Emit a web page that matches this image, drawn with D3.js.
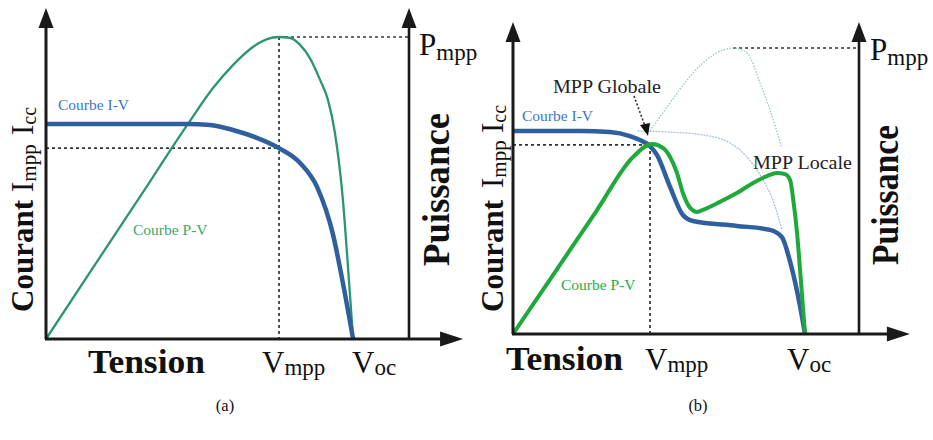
<!DOCTYPE html>
<html>
<head>
<meta charset="utf-8">
<script src="https://cdn.jsdelivr.net/npm/d3@7"></script>
<style>
html,body{margin:0;padding:0;background:#fff;}
svg{display:block;}
text{font-family:"Liberation Serif","Times New Roman",serif;}
</style>
</head>
<body>
<svg id="chart" width="933" height="440"></svg>
<script>
// ---------- DATA (normalised units: V 0..100 of axis span, I/P 0..100) ----------
// Panel (a)
const ivA_V = [0, 20.4, 38.8, 45.2, 51.5, 58.1, 64.2, 70.0, 74.7, 79.1, 81.8, 84.6];
const ivA_I = [71.2, 71.2, 71.2, 70.9, 69.2, 66.6, 63.2, 58.3, 50.3, 34.4, 18.5, 0];
const pvA_V = [0, 13, 26, 39.1, 46.0, 51.5, 57.0, 60.9, 64.2, 67.2, 70.0, 72.7, 75.5, 77.7, 79.6, 81.8, 83.2, 84.6];
const pvA_P = [0, 23.7, 47.3, 71.2, 83.1, 90.7, 96.7, 99.3, 100, 99.7, 97.4, 93.0, 85.8, 79.1, 68.2, 46.0, 23.8, 0];
const mppA = {v: 64.2, i: 63.2, p: 100, voc: 84.6};

// Panel (b) : partial shading
const ivB_V = [0, 19.4, 28.0, 33.8, 36.7, 39.6, 41.6, 45.4, 49.1, 52.0, 64.7, 74.3, 77.7, 80.1, 82.9, 84.4];
const ivB_I = [71.0, 71.0, 70.6, 69.2, 67.8, 65.7, 62.6, 51.4, 41.6, 39.5, 37.8, 36.4, 33.9, 25.2, 10.1, 0];
const pvB_V = [0, 12, 24, 34.7, 40.2, 43.4, 45.4, 47.4, 49.1, 51.2, 53.2, 54.9, 59.8, 64.7, 69.4, 73.4, 76.3, 78.6, 80.1, 81.0, 82.1, 82.9, 83.8, 84.4];
const pvB_P = [0, 21.4, 42.8, 61.9, 66.4, 65.0, 61.9, 56.3, 49.3, 44.1, 42.7, 43.4, 46.2, 49.3, 52.8, 55.2, 56.3, 55.9, 53.8, 46.9, 35.3, 23.4, 9.4, 0];
// faded (unshaded) reference curves in panel (b)
const ivRef_V = [36.0, 45.4, 54.9, 62.7, 67.6, 72.3, 75.1, 77.7];
const ivRef_I = [71.0, 70.6, 69.6, 66.8, 61.9, 53.8, 46.9, 36.4];
const pvRef_V = [39.6, 45.4, 50.3, 54.9, 60.7, 63.6, 67.6, 71.4, 74.3, 77.7];
const pvRef_P = [71.0, 80.8, 88.8, 94.8, 99.3, 100, 98.3, 87.8, 78.3, 65.0];
const mppB = {v: 39.6, i: 66.1, p: 100, pv: 63.6, voc: 84.4};

// Labels
const xTitle = "Tension";
const yLeftTitle = "Courant";
const yRightTitle = "Puissance";
const curveLabels = ["Courbe I-V", "Courbe P-V"];
const mppLabels = ["MPP Globale", "MPP Locale"];
const captions = ["(a)", "(b)"];

// ---------- DRAW ----------
const svg = d3.select("#chart");
const BLUE = "#2f5f9f", BLUE_T = "#3a78c0";

function zip(a, b) { return a.map((v, k) => [v, b[k]]); }

function panel(cfg) {
  const g = svg.append("g");
  const x = d3.scaleLinear().domain([0, 100]).range([cfg.x0, cfg.x1]);
  const y = d3.scaleLinear().domain([0, 100]).range([cfg.y0, cfg.y1]);
  const line = d3.line().x(d => x(d[0])).y(d => y(d[1])).curve(d3.curveMonotoneX);
  cfg.draw(g, x, y, line);

  // axes
  const ax = "#1a1a1a";
  g.append("line").attr("x1", x(0)).attr("y1", y(0)).attr("x2", x(0)).attr("y2", y(cfg.ymax) + 16)
    .attr("stroke", ax).attr("stroke-width", 3);
  g.append("line").attr("x1", x(100)).attr("y1", y(0)).attr("x2", x(100)).attr("y2", y(cfg.ymax) + 16)
    .attr("stroke", ax).attr("stroke-width", 2.6);
  g.append("line").attr("x1", x(0) - 1).attr("y1", y(0)).attr("x2", x(cfg.xmax) - 18).attr("y2", y(0))
    .attr("stroke", ax).attr("stroke-width", 3);
  [x(0), x(100)].forEach(px => {
    const ty = y(cfg.ymax);
    g.append("path").attr("d", `M${px},${ty} L${px - 7.5},${ty + 20} L${px + 7.5},${ty + 20} Z`).attr("fill", ax);
  });
  const tx = x(cfg.xmax);
  g.append("path").attr("d", `M${tx},${y(0)} L${tx - 23},${y(0) - 7.5} L${tx - 23},${y(0) + 7.5} Z`).attr("fill", ax);
  return {g, x, y};
}

function subText(g, px, py, main, sub, mainSize, subSize, dy) {
  const t = g.append("text").attr("x", px).attr("y", py).attr("fill", "#111");
  t.append("tspan").attr("font-size", mainSize).text(main);
  t.append("tspan").attr("font-size", subSize).attr("dy", dy).text(sub);
  return t;
}

function leftLabel(g, bx, by, cc) {
  const r = g.append("g").attr("transform", `translate(${bx},${by}) rotate(-90)`);
  r.append("text").attr("x", 0).attr("y", 0).attr("font-size", 31).attr("font-weight", "bold").attr("fill", "#111").text(yLeftTitle);
  const t1 = r.append("text").attr("x", cc[0]).attr("y", 0).attr("fill", "#111");
  t1.append("tspan").attr("font-size", 31).text("I");
  t1.append("tspan").attr("font-size", 21).attr("dy", 3).text("mpp");
  const t2 = r.append("text").attr("x", cc[1]).attr("y", 0).attr("fill", "#111");
  t2.append("tspan").attr("font-size", 31).text("I");
  t2.append("tspan").attr("font-size", 20).attr("dy", 3).text("cc");
}

function dashed(g, x1, y1, x2, y2) {
  g.append("line").attr("x1", x1).attr("y1", y1).attr("x2", x2).attr("y2", y2)
    .attr("stroke", "#333").attr("stroke-width", 1.7).attr("stroke-dasharray", "3,3");
}

// ---- Panel (a)
const A = panel({
  x0: 46, x1: 409, y0: 339, y1: 37, ymax: 109.6, xmax: 114.9,
  draw: (g, x, y, line) => {
    dashed(g, x(mppA.v), y(mppA.p), x(100), y(mppA.p));
    dashed(g, x(mppA.v), y(mppA.p), x(mppA.v), y(0));
    dashed(g, x(0), y(mppA.i), x(mppA.v), y(mppA.i));
    g.append("path").datum(zip(pvA_V, pvA_P)).attr("d", line).attr("fill", "none")
      .attr("stroke", "#2b9571").attr("stroke-width", 2.3);
    g.append("path").datum(zip(ivA_V, ivA_I)).attr("d", line).attr("fill", "none")
      .attr("stroke", BLUE).attr("stroke-width", 4.5);
  }
});
A.g.append("text").attr("x", 58).attr("y", 110).attr("font-size", 15.5).attr("fill", BLUE_T).text(curveLabels[0]);
A.g.append("text").attr("x", 133).attr("y", 235).attr("font-size", 15.5).attr("fill", "#3aa96c").text(curveLabels[1]);
A.g.append("text").attr("x", 88).attr("y", 373).attr("font-size", 33).attr("font-weight", "bold")
  .attr("textLength", 117).attr("lengthAdjust", "spacingAndGlyphs").attr("fill", "#111").text(xTitle);
subText(A.g, 262, 373, "V", "mpp", 31, 23, 2);
subText(A.g, 352, 373, "V", "oc", 31, 23, 2);
subText(A.g, 419, 55, "P", "mpp", 31, 23, 5);
leftLabel(A.g, 33, 312, [120, 177]);
A.g.append("text").attr("transform", "translate(449,266) rotate(-90)").attr("font-size", 37).attr("font-weight", "bold")
  .attr("textLength", 153).attr("lengthAdjust", "spacingAndGlyphs").attr("fill", "#111").text(yRightTitle);
A.g.append("text").attr("x", 225).attr("y", 411).attr("text-anchor", "middle").attr("font-size", 16.5).attr("fill", "#111").text(captions[0]);

// ---- Panel (b)
const B = panel({
  x0: 513, x1: 859, y0: 334, y1: 48, ymax: 109.1, xmax: 114.7,
  draw: (g, x, y, line) => {
    dashed(g, x(mppB.pv), y(mppB.p), x(100), y(mppB.p));
    dashed(g, x(mppB.v), y(mppB.i), x(mppB.v), y(0));
    dashed(g, x(0), y(mppB.i), x(mppB.v), y(mppB.i));
    g.append("path").datum(zip(ivRef_V, ivRef_I)).attr("d", line).attr("fill", "none")
      .attr("stroke", "#a9c2e2").attr("stroke-width", 1.3).attr("stroke-dasharray", "2,1");
    g.append("path").datum(zip(pvRef_V, pvRef_P)).attr("d", line).attr("fill", "none")
      .attr("stroke", "#93cdb3").attr("stroke-width", 1.3).attr("stroke-dasharray", "1.5,1.5");
    g.append("path").datum(zip(ivB_V, ivB_I)).attr("d", line).attr("fill", "none")
      .attr("stroke", BLUE).attr("stroke-width", 4.5);
    g.append("path").datum(zip(pvB_V, pvB_P)).attr("d", line).attr("fill", "none")
      .attr("stroke", "#1fa83c").attr("stroke-width", 4);
  }
});
B.g.append("text").attr("x", 522).attr("y", 121).attr("font-size", 15.5).attr("fill", BLUE_T).text(curveLabels[0]);
B.g.append("text").attr("x", 561).attr("y", 290).attr("font-size", 15.5).attr("fill", "#22b043").text(curveLabels[1]);
B.g.append("text").attr("x", 553).attr("y", 93).attr("font-size", 18.5).attr("textLength", 108)
  .attr("lengthAdjust", "spacingAndGlyphs").attr("fill", "#222").text(mppLabels[0]);
B.g.append("text").attr("x", 753).attr("y", 169).attr("font-size", 18.5).attr("textLength", 99)
  .attr("lengthAdjust", "spacingAndGlyphs").attr("fill", "#222").text(mppLabels[1]);
// pointer to global MPP
B.g.append("line").attr("x1", 634).attr("y1", 96).attr("x2", 645).attr("y2", 126)
  .attr("stroke", "#333").attr("stroke-width", 1.6).attr("stroke-dasharray", "2,2");
B.g.append("path").attr("d", "M648,136 L640,125 L650,123 Z").attr("fill", "#111");
B.g.append("text").attr("x", 506).attr("y", 370).attr("font-size", 33).attr("font-weight", "bold")
  .attr("textLength", 117).attr("lengthAdjust", "spacingAndGlyphs").attr("fill", "#111").text(xTitle);
subText(B.g, 645, 370, "V", "mpp", 31, 23, 2);
subText(B.g, 787, 370, "V", "oc", 31, 23, 2);
subText(B.g, 870, 60, "P", "mpp", 31, 23, 5);
leftLabel(B.g, 503, 312, [124, 179]);
B.g.append("text").attr("transform", "translate(898,265) rotate(-90)").attr("font-size", 37).attr("font-weight", "bold")
  .attr("textLength", 140).attr("lengthAdjust", "spacingAndGlyphs").attr("fill", "#111").text(yRightTitle);
B.g.append("text").attr("x", 698).attr("y", 411).attr("text-anchor", "middle").attr("font-size", 16.5).attr("fill", "#111").text(captions[1]);
</script>
</body>
</html>
